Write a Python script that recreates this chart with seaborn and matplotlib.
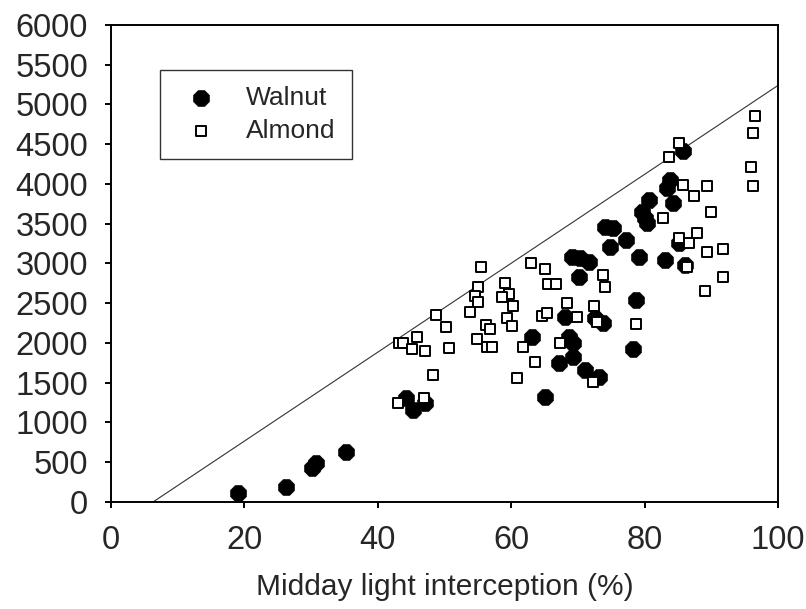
import seaborn as sns
import matplotlib
matplotlib.use('Agg')
import matplotlib.pyplot as plt
import pandas as pd

sns.set_style('ticks')
plt.rcParams['font.family'] = ['Liberation Sans', 'DejaVu Sans']

# walnut points (light interception %, y value)
walnut_x = [19.1, 26.2, 30.1, 30.8, 35.3, 44.3, 45.3, 47.1, 63.1, 65.1,
            67.1, 68.1, 68.6, 69.3, 69.3, 71.1, 73.1, 72.6, 73.8, 69.1,
            70.3, 71.6, 70.1, 74.1, 75.3, 74.8, 77.2, 79.1, 78.7, 78.3,
            79.6, 80.1, 80.3, 80.7, 83.8, 83.3, 84.2, 85.8, 83.0, 85.2, 86.1]
walnut_y = [109, 193, 424, 487, 633, 1304, 1157, 1241, 2080, 1325,
            1745, 2331, 2080, 1996, 1828, 1660, 1576, 2310, 2248, 3086,
            3065, 3023, 2826, 3463, 3442, 3211, 3296, 3078, 2541, 1920,
            3652, 3569, 3506, 3799, 4050, 3946, 3766, 4419, 3044, 3262, 2981]

# almond points
almond_x = [55.5, 55.0, 54.5, 55.0, 53.8, 48.7, 50.2, 43.2, 43.8, 45.9,
            45.1, 47.1, 50.6, 48.2, 43.1, 47.0, 59.1, 59.6, 58.6, 60.3,
            59.3, 60.1, 56.2, 56.8, 54.8, 56.3, 57.1, 60.8, 62.9, 65.1,
            65.5, 66.7, 73.7, 74.1, 68.4, 69.8, 64.6, 65.4, 72.4, 72.8,
            61.7, 67.3, 63.6, 72.3, 78.7, 85.1, 83.6, 85.8, 89.3, 87.4,
            96.2, 96.6, 95.9, 96.2, 90.0, 82.7, 85.2, 86.6, 87.9, 89.4,
            91.8, 91.8, 89.0, 86.3]
almond_y = [2952, 2708, 2591, 2520, 2393, 2352, 2197, 1996, 2004, 2072,
            1920, 1903, 1933, 1597, 1241, 1304, 2751, 2616, 2574, 2465,
            2310, 2214, 2226, 2172, 2046, 1945, 1954, 1556, 3010, 2926,
            2742, 2742, 2855, 2700, 2499, 2331, 2340, 2381, 2465, 2268,
            1953, 2004, 1765, 1513, 2235, 4520, 4344, 3987, 3975, 3849,
            4637, 4850, 4218, 3975, 3652, 3569, 3317, 3262, 3388, 3149,
            3178, 2834, 2658, 2960]

# upper boundary line
line_x = [6.3, 100]
line_y = [0, 5240]

walnut = pd.DataFrame({'x': walnut_x, 'y': walnut_y})
almond = pd.DataFrame({'x': almond_x, 'y': almond_y})

fig = plt.figure(figsize=(8.06, 6.09), dpi=100)
ax = fig.add_axes([0.1377, 0.1757, 0.8276, 0.7833])

sns.lineplot(x=line_x, y=line_y, ax=ax, color='#333333', linewidth=0.8)
sns.scatterplot(data=walnut, x='x', y='y', ax=ax, marker='8', s=150,
                color='black', edgecolor='black', linewidth=0.5, label='Walnut', zorder=3)
sns.scatterplot(data=almond, x='x', y='y', ax=ax, marker='s', s=50,
                facecolor='white', edgecolor='black', linewidth=1.4, label='Almond', zorder=4)

ax.set_xlim(0, 100)
ax.set_ylim(0, 6000)
ax.set_xticks(range(0, 101, 20))
ax.set_yticks(range(0, 6001, 500))
ax.set_xlabel('Midday light interception (%)', fontsize=21.5, labelpad=12)
ax.set_ylabel('')
ax.tick_params(labelsize=23.5, length=4.5, width=1.4, pad=12, direction='out', color='black')
for sp in ax.spines.values():
    sp.set_linewidth(1.4)
    sp.set_color('black')

leg = ax.legend(loc='upper left', bbox_to_anchor=(0.0735, 0.906), fontsize=19,
                frameon=True, fancybox=False, borderpad=0.62, handletextpad=0.75,
                borderaxespad=0, labelspacing=0.33, handlelength=1.9)
leg.get_frame().set_edgecolor('black')
leg.get_frame().set_linewidth(1.0)

fig.savefig('out.png', dpi=100)
